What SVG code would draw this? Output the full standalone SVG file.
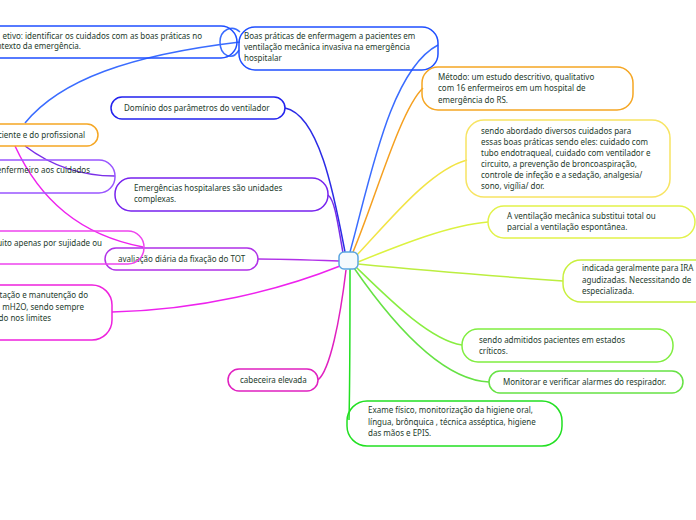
<svg xmlns="http://www.w3.org/2000/svg" width="696" height="520" viewBox="0 0 696 520">
<style>
  .n { fill: none; stroke-width: 1.5; }
  .c { fill: none; stroke-width: 1.5; }
  text { font-family: "Noto Sans", "Open Sans", sans-serif; font-size: 8px; fill: #1d3b2c; }
  .e { text-anchor: end; }
</style>
<rect width="696" height="520" fill="#ffffff"/>
<g id="connectors">
  <path class="c" stroke="#2b2be6" d="M345,252 C335,200 320,115 285,108"/>
  <path class="c" stroke="#3a6cff" d="M350,252 C370,180 390,70 438,45"/>
  <path class="c" stroke="#7a2ee8" d="M343,253 C338,225 335,200 328,195"/>
  <path class="c" stroke="#f5a020" d="M353,252 C375,200 400,110 423,88"/>
  <path class="c" stroke="#f2e445" d="M357,255 C390,220 430,170 467,160"/>
  <path class="c" stroke="#dcf240" d="M358,262 C400,245 450,225 488,222"/>
  <path class="c" stroke="#bcee40" d="M358,264 C420,270 480,275 563,281"/>
  <path class="c" stroke="#88ee40" d="M356,267 C390,300 430,340 462,345"/>
  <path class="c" stroke="#66e244" d="M354,268 C390,320 440,380 489,382"/>
  <path class="c" stroke="#22e022" d="M350,269 C350,320 350,380 349,420"/>
  <path class="c" stroke="#e020c0" d="M346,270 C340,320 330,370 318,380"/>
  <path class="c" stroke="#ee22ee" d="M340,266 C280,290 200,310 112,312"/>
  <path class="c" stroke="#b030e8" d="M339,261 C310,260 280,259 258,259"/>
  <path class="c" stroke="#3a6cff" d="M25,123 C60,80 130,55 240,42"/>
  <path class="c" stroke="#3a6cff" d="M239,50 C232,62 220,55 220,42 C220,30 232,24 240,32"/>
  <path class="c" stroke="#ee22ee" d="M15,146 C40,200 80,235 143,247"/>
  <path class="c" stroke="#7a2ee8" d="M25,146 C50,165 80,176 115,176"/>
</g>
<g id="center"><rect x="339" y="252" width="19" height="17" rx="5" fill="#f4fafd" stroke="#5aa5e0" stroke-width="1.5"/></g>
<g id="n-objetivo">
  <rect class="n" stroke="#1f4fff" x="-30" y="26" width="267" height="32" rx="16"/>
  <text x="202" y="38.5" class="e">etivo: identificar os cuidados com as boas práticas no</text>
  <text x="81" y="48.5" class="e">ntexto da emergência.</text>
</g>
<g id="n-boas">
  <rect class="n" stroke="#1f4fff" x="239" y="27" width="199" height="43" rx="16"/>
  <text x="244" y="38.5">Boas práticas de enfermagem a pacientes em</text>
  <text x="244" y="49.5">ventilação mecânica invasiva na emergência</text>
  <text x="244" y="61">hospitalar</text>
</g>
<g id="n-metodo">
  <rect class="n" stroke="#f5a623" x="422" y="67" width="211" height="43" rx="16"/>
  <text x="438" y="79.5">Método: um estudo descritivo, qualitativo</text>
  <text x="438" y="91">com 16 enfermeiros em um hospital de</text>
  <text x="438" y="102.5">emergência do RS.</text>
</g>
<g id="n-abordado">
  <rect class="n" stroke="#f7e463" x="466" y="120" width="204" height="77" rx="18"/>
  <text x="481" y="133.5">sendo abordado diversos cuidados para</text>
  <text x="481" y="144.5">essas boas práticas sendo eles: cuidado com</text>
  <text x="481" y="155.5">tubo endotraqueal, cuidado com ventilador e</text>
  <text x="481" y="166.5">circuito, a prevenção de broncoaspiração,</text>
  <text x="481" y="177.5">controle de infeção e a sedação, analgesia/</text>
  <text x="481" y="188.5">sono, vigília/ dor.</text>
</g>
<g id="n-ventilacao">
  <rect class="n" stroke="#e2f24a" x="488" y="206" width="207" height="32" rx="16"/>
  <text x="507" y="219">A ventilação mecânica substitui total ou</text>
  <text x="507" y="229.5">parcial a ventilação espontânea.</text>
</g>
<g id="n-indicada">
  <rect class="n" stroke="#c8f03e" x="563" y="260" width="160" height="42" rx="18"/>
  <text x="582" y="271">indicada geralmente para IRA</text>
  <text x="582" y="282.5">agudizadas. Necessitando de</text>
  <text x="582" y="294">especializada.</text>
</g>
<g id="n-admitidos">
  <rect class="n" stroke="#80ee40" x="462" y="329" width="211" height="33" rx="16"/>
  <text x="479" y="343">sendo admitidos pacientes em estados</text>
  <text x="479" y="353.5">críticos.</text>
</g>
<g id="n-monitorar">
  <rect class="n" stroke="#66e244" x="489" y="371" width="194" height="22" rx="11"/>
  <text x="503" y="384.5">Monitorar e verificar alarmes do respirador.</text>
</g>
<g id="n-exame">
  <rect class="n" stroke="#22e022" x="347" y="401" width="215" height="45" rx="20"/>
  <text x="368" y="413">Exame físico, monitorização da higiene oral,</text>
  <text x="368" y="424.5">língua, brônquica , técnica asséptica, higiene</text>
  <text x="368" y="436">das mãos e EPIS.</text>
</g>
<g id="n-cabeceira">
  <rect class="n" stroke="#e020c0" x="228" y="369" width="90" height="22" rx="11"/>
  <text x="240" y="382.5">cabeceira elevada</text>
</g>
<g id="n-cuff">
  <rect class="n" stroke="#ee22dd" x="-40" y="285" width="152" height="55" rx="20"/>
  <text x="88" y="298" class="e">tação e manutenção do</text>
  <text x="84" y="309.5" class="e">mH2O, sendo sempre</text>
  <text x="51" y="321" class="e">do nos limites</text>
</g>
<g id="n-avaliacao">
  <rect class="n" stroke="#b030e8" x="105" y="248" width="153" height="22" rx="11"/>
  <text x="118" y="262">avaliação diária da fixação do TOT</text>
</g>
<g id="n-sujidade">
  <rect class="n" stroke="#ee44ee" x="-40" y="231" width="184" height="33" rx="16"/>
  <text x="102" y="245.5" class="e">uito apenas por sujidade ou</text>
</g>
<g id="n-enfermeiro">
  <rect class="n" stroke="#9955ff" x="-40" y="160" width="155" height="33" rx="16"/>
  <text x="90" y="173" class="e">enfermeiro aos cuidados</text>
</g>
<g id="n-profissional">
  <rect class="n" stroke="#f5a623" x="-40" y="124" width="138" height="22" rx="11"/>
  <text x="85" y="137.5" class="e">ciente e do profissional</text>
</g>
<g id="n-dominio">
  <rect class="n" stroke="#2222ee" x="111" y="97" width="174" height="22" rx="11"/>
  <text x="124" y="111">Domínio dos parâmetros do ventilador</text>
</g>
<g id="n-emergencias">
  <rect class="n" stroke="#7722ee" x="115" y="178" width="213" height="33" rx="16"/>
  <text x="134" y="191">Emergências hospitalares são unidades</text>
  <text x="134" y="202">complexas.</text>
</g>
</svg>
